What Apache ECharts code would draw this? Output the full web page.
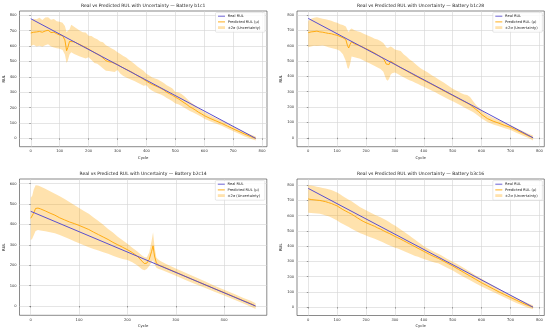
<!DOCTYPE html>
<html><head><meta charset="utf-8">
<script src="https://cdn.jsdelivr.net/npm/echarts@6/dist/echarts.min.js"></script>
<style>html,body{margin:0;padding:0;background:#fff}#c{width:550px;height:331px}</style>
</head><body><div id="c"></div>
<script>
// ---------- Battery b1c1 ----------
const b1c1_cycle = [0,10,20,30,40,50,60,70,80,90,100,110,118,124,128,134,140,150,160,170,180,190,200,210,220,230,240,250,260,270,280,290,300,310,320,330,340,350,360,370,380,390,400,410,420,430,440,450,460,470,480,490,500,510,520,530,540,550,560,570,580,590,600,620,640,660,680,700,720,740,760,778];
const b1c1_mu = [685,690,692,695,690,698,703,688,690,680,672,668,640,570,590,630,642,628,618,610,600,592,580,570,558,548,538,522,505,498,495,488,480,468,458,448,440,430,418,406,396,384,372,360,350,342,334,325,315,300,290,280,268,258,245,232,220,205,195,183,170,160,148,130,114,98,80,62,45,28,12,0];
const b1c1_lo = [600,608,598,602,596,606,612,598,590,586,582,575,545,490,505,545,560,548,540,532,525,520,528,510,490,485,470,455,440,438,435,432,445,420,405,395,388,380,372,362,352,342,345,322,310,300,292,285,276,262,252,242,226,222,212,200,190,178,170,160,150,140,128,112,96,82,65,47,30,12,-3,-14];
const b1c1_hi = [765,778,775,784,770,786,788,772,776,762,758,752,730,690,700,708,738,725,712,700,690,688,668,665,652,645,630,625,605,596,585,574,560,548,535,525,510,496,482,465,452,440,420,408,396,390,382,372,360,345,335,325,302,298,290,275,258,240,225,210,196,185,172,150,132,116,96,77,60,42,25,12];
const b1c1_realCycle = [0,778];
const b1c1_real = [778,0];

// ---------- Battery b1c28 ----------
const b1c28_cycle = [0,10,20,30,40,50,60,70,80,90,100,110,120,130,136,140,145,150,160,170,180,190,200,210,220,230,240,250,260,265,270,275,280,285,290,300,310,320,330,340,350,360,370,380,390,400,410,420,430,440,450,460,470,480,490,500,510,520,530,540,550,560,570,580,590,600,620,640,660,680,700,720,740,760,778];
const b1c28_mu = [685,690,692,695,690,688,684,680,678,672,668,660,652,640,600,585,610,625,612,605,598,590,580,572,562,552,540,528,515,500,480,470,478,500,492,480,468,456,446,436,425,415,404,394,384,375,365,355,345,335,325,315,305,295,285,275,265,255,245,236,226,215,200,185,170,152,125,108,95,80,68,50,32,14,0];
const b1c28_lo = [590,595,600,598,600,602,596,590,585,580,575,565,545,500,455,450,480,530,525,520,515,505,495,488,478,468,458,448,430,405,380,372,385,410,420,425,415,405,395,385,375,368,358,350,340,332,322,314,305,296,286,276,266,256,246,238,228,218,208,198,188,178,168,155,140,125,102,86,75,62,50,33,16,0,-18];
const b1c28_hi = [760,775,782,786,780,776,772,768,762,755,750,740,735,725,700,690,705,712,700,695,690,680,672,664,655,645,640,630,618,605,590,585,590,595,590,575,570,565,545,530,512,498,482,466,452,440,430,418,405,394,382,370,358,345,333,320,310,300,290,282,278,265,240,215,198,180,150,130,115,96,82,64,46,28,14];
const b1c28_realCycle = [0,778];
const b1c28_real = [778,0];

// ---------- Battery b2c14 ----------
const b2c14_cycle = [0,3,6,10,15,20,30,40,50,60,70,80,90,100,110,120,130,140,150,160,170,180,190,200,210,220,230,235,240,245,250,253,256,260,265,270,280,290,300,320,340,360,380,400,420,440,455,465];
const b2c14_mu = [430,432,455,478,480,476,466,455,445,432,422,412,404,395,385,375,362,350,338,326,312,300,288,276,262,245,220,208,210,228,268,295,245,210,200,196,186,176,166,145,125,105,85,66,46,26,12,0];
const b2c14_lo = [322,330,345,368,372,370,366,362,356,348,338,328,318,308,298,288,280,272,264,256,246,238,230,226,215,200,180,175,182,196,215,225,205,188,182,178,168,158,148,128,108,90,70,52,32,12,-4,-15];
const b2c14_hi = [530,540,570,592,590,586,575,562,550,538,524,510,495,480,466,452,434,416,398,378,360,340,322,305,286,268,248,240,238,262,320,362,290,236,225,218,206,195,184,163,142,122,100,80,60,40,26,14];
const b2c14_realCycle = [0,465];
const b2c14_real = [464,0];

// ---------- Battery b3c16 ----------
const b3c16_cycle = [0,10,20,30,40,50,60,70,80,90,100,110,120,130,140,150,160,170,180,190,200,210,220,230,240,250,260,270,280,290,300,310,320,330,340,350,360,370,380,390,400,420,440,450,460,480,500,520,540,560,580,600,620,640,660,680,700,720,740,760,778];
const b3c16_mu = [710,706,704,702,700,696,692,686,680,672,664,652,640,630,620,610,598,586,574,563,554,546,538,530,520,512,502,492,484,474,464,455,446,436,426,416,406,396,386,376,366,346,328,320,310,290,270,248,226,204,182,160,140,120,100,82,64,46,28,12,0];
const b3c16_lo = [620,618,616,614,612,608,602,596,588,578,568,555,545,535,526,515,504,494,485,478,470,462,455,448,440,432,424,415,406,398,390,384,376,368,360,352,344,336,330,322,316,302,292,288,278,258,240,218,196,176,155,136,118,100,82,64,46,28,12,-4,-14];
const b3c16_hi = [800,798,795,790,786,782,778,774,768,760,752,740,728,716,705,695,682,668,655,645,636,626,616,606,598,590,580,570,558,546,535,522,510,496,484,470,456,442,428,414,400,378,358,350,340,318,298,278,256,232,208,186,164,142,120,100,80,62,44,26,12];
const b3c16_realCycle = [0,778];
const b3c16_real = [779,0];

// ---------- tick labels ----------
const ticks800 = [0,100,200,300,400,500,600,700,800];
const ticks400x = [0,100,200,300,400];
const ticks600y = [0,100,200,300,400,500,600];

const titles = [
  'Real vs Predicted RUL with Uncertainty \u2014 Battery b1c1',
  'Real vs Predicted RUL with Uncertainty \u2014 Battery b1c28',
  'Real vs Predicted RUL with Uncertainty \u2014 Battery b2c14',
  'Real vs Predicted RUL with Uncertainty \u2014 Battery b3c16'
];
const legendNames = ['Real RUL', 'Predicted RUL (\u03bc)', '\u00b12\u03c3 (Uncertainty)'];

const panels = [
  {cycle:b1c1_cycle, mu:b1c1_mu, lo:b1c1_lo, hi:b1c1_hi, rc:b1c1_realCycle, r:b1c1_real, xt:ticks800, yt:ticks800, box:[19.5,11,267,146.7]},
  {cycle:b1c28_cycle, mu:b1c28_mu, lo:b1c28_lo, hi:b1c28_hi, rc:b1c28_realCycle, r:b1c28_real, xt:ticks800, yt:ticks800, box:[297,11,544.3,146.7]},
  {cycle:b2c14_cycle, mu:b2c14_mu, lo:b2c14_lo, hi:b2c14_hi, rc:b2c14_realCycle, r:b2c14_real, xt:ticks400x, yt:ticks600y, box:[19.5,179,266.8,315.3]},
  {cycle:b3c16_cycle, mu:b3c16_mu, lo:b3c16_lo, hi:b3c16_hi, rc:b3c16_realCycle, r:b3c16_real, xt:ticks800, yt:ticks800, box:[297,179,544.3,315.5]}
];

const REAL_COLOR = '#5a4fcf';
const MU_COLOR = '#ffa500';
const BAND_COLOR = 'rgba(255,165,0,0.32)';
const FONT = 'DejaVu Sans';
const W = 550, H = 331;

function range(vals){
  const mn = Math.min(...vals), mx = Math.max(...vals);
  const m = (mx - mn) * 0.05;
  return [mn - m, mx + m];
}

const grid = [], xAxis = [], yAxis = [], series = [], title = [], graphic = [];
panels.forEach((p, k) => {
  const [l, t, r, b] = p.box;
  grid.push({left:l, top:t, width:r-l, height:b-t, show:true, borderColor:'#3a3a3a', borderWidth:0.6, backgroundColor:'transparent', containLabel:false});
  const xr = range([...p.cycle, ...p.rc]);
  const yr = range([...p.lo, ...p.hi, ...p.mu, ...p.r]);
  const common = {
    type:'value', gridIndex:k, nameLocation:'middle',
    nameTextStyle:{fontSize:3.8, color:'#222', fontFamily:FONT},
    axisLine:{show:false},
    axisTick:{show:true, length:1.4, lineStyle:{color:'#444', width:0.5}},
    axisLabel:{fontSize:3.7, color:'#333', fontFamily:FONT},
    splitLine:{show:true, lineStyle:{color:'#d3d3d3', width:0.6}}
  };
  xAxis.push(Object.assign({}, common, {
    min:xr[0], max:xr[1], name:'Cycle', nameGap:9,
    axisTick:Object.assign({}, common.axisTick, {customValues:p.xt}),
    axisLabel:Object.assign({}, common.axisLabel, {customValues:p.xt, margin:2.6})
  }));
  yAxis.push(Object.assign({}, common, {
    min:yr[0], max:yr[1], name:'RUL', nameGap:13,
    axisTick:Object.assign({}, common.axisTick, {customValues:p.yt}),
    axisLabel:Object.assign({}, common.axisLabel, {customValues:p.yt, margin:2.8})
  }));
  // uncertainty band: polygon through the axis scales
  const bandData = p.cycle.map((c,i)=>[c, p.lo[i], p.hi[i]]);
  series.push({
    name:legendNames[2], type:'custom', xAxisIndex:k, yAxisIndex:k, silent:true, z:1,
    data:bandData, encode:{x:0, y:[1,2]},
    renderItem:function(params, api){
      if (params.dataIndex !== 0) return null;
      const upper = bandData.map(d => api.coord([d[0], d[2]]));
      const lower = bandData.slice().reverse().map(d => api.coord([d[0], d[1]]));
      return {type:'polygon', shape:{points:upper.concat(lower)}, style:{fill:BAND_COLOR}, silent:true};
    }
  });
  series.push({
    name:legendNames[1], type:'line', xAxisIndex:k, yAxisIndex:k,
    data:p.cycle.map((c,i)=>[c, p.mu[i]]), symbol:'none', lineStyle:{color:MU_COLOR, width:0.9}, silent:true, z:3
  });
  series.push({
    name:legendNames[0], type:'line', xAxisIndex:k, yAxisIndex:k,
    data:p.rc.map((c,i)=>[c, p.r[i]]), symbol:'none', lineStyle:{color:REAL_COLOR, width:1}, silent:true, z:4
  });
  title.push({text:titles[k], left:(l+r)/2, top:t-8, textAlign:'center', padding:0,
    textStyle:{fontSize:4.5, fontWeight:'normal', color:'#222', fontFamily:FONT}});
  // legend box
  const bx = r - 51.5, by = t + 1.6, bw = 49.5, bh = 19.6;
  graphic.push({type:'rect', shape:{x:bx, y:by, width:bw, height:bh, r:1}, style:{fill:'rgba(255,255,255,0.85)', stroke:'#d0d0d0', lineWidth:0.5}, z:10});
  const rows = [by+3.6, by+9.3, by+15];
  graphic.push({type:'line', shape:{x1:bx+2.5, y1:rows[0], x2:bx+9.5, y2:rows[0]}, style:{stroke:REAL_COLOR, lineWidth:0.9}, z:11});
  graphic.push({type:'line', shape:{x1:bx+2.5, y1:rows[1], x2:bx+9.5, y2:rows[1]}, style:{stroke:MU_COLOR, lineWidth:0.9}, z:11});
  graphic.push({type:'rect', shape:{x:bx+2.5, y:rows[2]-1.4, width:7, height:2.8}, style:{fill:BAND_COLOR}, z:11});
  legendNames.forEach((n, i) => {
    graphic.push({type:'text', x:bx+12.3, y:rows[i], style:{text:n, fontSize:3.6, fill:'#222', fontFamily:FONT, verticalAlign:'middle', align:'left'}, z:11});
  });
});

const chart = echarts.init(document.getElementById('c'), null, {renderer:'canvas', width:W, height:H});
chart.setOption({animation:false, backgroundColor:'#fff', title, grid, xAxis, yAxis, series, graphic});
</script></body></html>
